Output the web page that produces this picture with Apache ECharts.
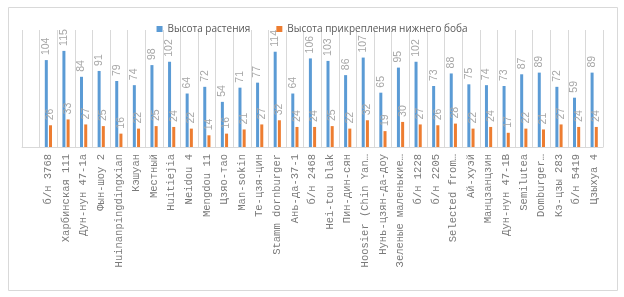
<!DOCTYPE html>
<html><head><meta charset="utf-8">
<script src="https://cdn.jsdelivr.net/npm/echarts@6/dist/echarts.min.js"></script>
<style>html,body{margin:0;padding:0;background:#fff}#c{width:624px;height:297px}</style>
</head><body><div id="c"></div>
<script>
const categories = ["", "б/н 3768", "Харбинская 111", "Дун-нун 47-1a", "Фын-шоу 2", "Huinanpingdingxian", "Кэшуан", "Местный", "Huitiejia", "Neidou 4", "Mengdou 11", "Цзяо-тао", "Man-sokin", "Те-цзя-цин", "Stamm dornburger", "Ань-да-37-1", "б/н 2468", "Hei-tou blak", "Пин-дин-сян", "Hoosier (Chin Yan…", "Нунь-цзян-да-доу", "Зеленые маленькие…", "б/н 1228", "б/н 2205", "Selected from…", "Ай-хуэй", "Манцзанцзин", "Дун-нун 47-1В", "Semilutea", "Domburger…", "Кэ-цзы 283", "б/н 5419", "Цзыхуа 4"];
const plantHeight = [null, 104, 115, 84, 91, 79, 74, 98, 102, 64, 72, 54, 71, 77, 114, 64, 106, 103, 86, 107, 65, 95, 102, 73, 88, 75, 74, 73, 87, 89, 72, 59, 89];
const podHeight = [null, 26, 33, 27, 25, 16, 22, 25, 24, 22, 14, 16, 21, 27, 32, 24, 24, 25, 22, 32, 19, 30, 27, 26, 28, 22, 24, 17, 22, 21, 27, 24, 24];
const seriesNames = ["Высота растения", "Высота прикрепления нижнего боба"];

const chart = echarts.init(document.getElementById('c'), null, {renderer: 'canvas'});
const labelCfg = {
  show: true, position: 'top', rotate: 90, align: 'left', verticalAlign: 'middle',
  distance: 5, color: '#a6a6a6', fontSize: 10.5, fontFamily: 'Liberation Sans'
};
chart.setOption({
  animation: false,
  graphic: [{type: 'rect', shape: {x: 8.5, y: 7.5, width: 609, height: 283},
    style: {fill: 'none', stroke: '#d9d9d9', lineWidth: 1}, silent: true}],
  legend: {
    top: 19, left: 'center', itemWidth: 6, itemHeight: 6, itemGap: 26,
    icon: 'rect',
    textStyle: {color: '#595959', fontSize: 10, fontFamily: 'Open Sans'},
    data: seriesNames
  },
  grid: {left: 22, right: 21, top: 30, bottom: 150, containLabel: false},
  xAxis: {
    type: 'category', data: categories,
    axisLine: {lineStyle: {color: '#d9d9d9'}},
    axisTick: {show: false},
    splitLine: {show: true, lineStyle: {color: '#d9d9d9'}},
    axisLabel: {rotate: 90, interval: 0, margin: 7, color: '#7a7a7a', fontSize: 10.5,
      fontFamily: 'Liberation Mono'}
  },
  yAxis: {type: 'value', min: 0, max: 140, show: false, splitLine: {show: false}},
  series: [
    {name: seriesNames[0], type: 'bar', data: plantHeight, barWidth: 3, barGap: '40%',
      itemStyle: {color: '#5b9bd5'}, label: labelCfg},
    {name: seriesNames[1], type: 'bar', data: podHeight, barWidth: 3,
      itemStyle: {color: '#ed7d31'}, label: labelCfg}
  ]
});
</script></body></html>
